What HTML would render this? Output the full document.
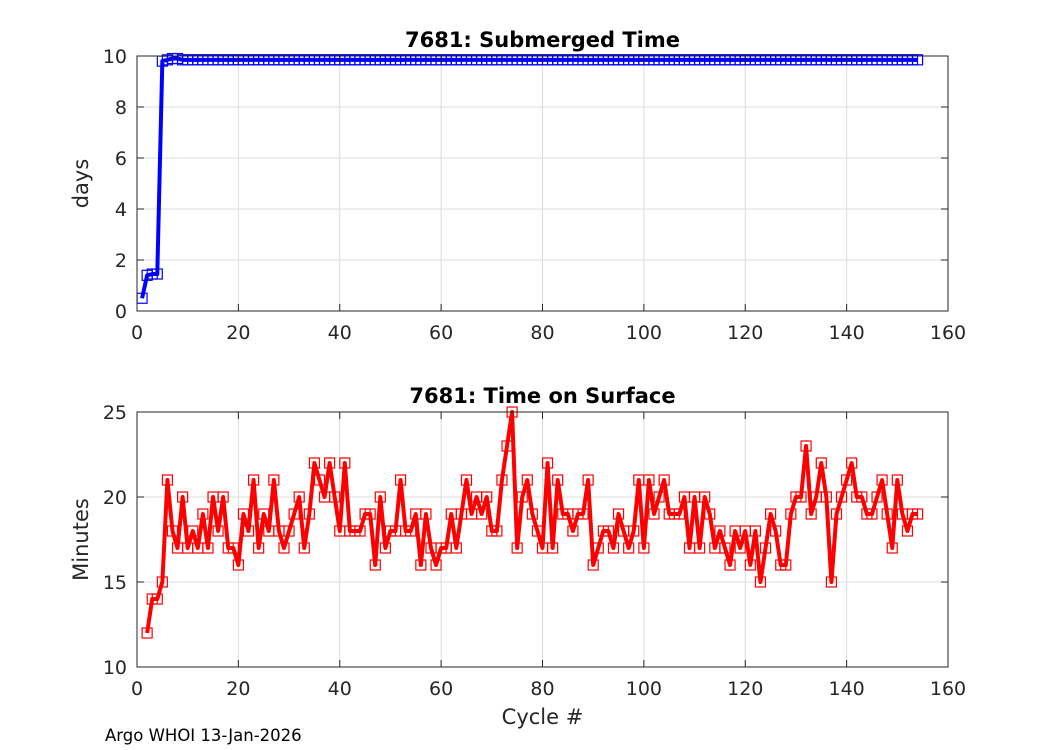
<!DOCTYPE html>
<html><head><meta charset="utf-8"><style>
body{margin:0;background:#fff;}
svg{display:block;font-family:"DejaVu Sans","Liberation Sans",sans-serif;}
</style></head><body>
<svg id="c" width="1050" height="750"></svg>
<script>
const cyclesTop=[];for(let i=1;i<=154;i++)cyclesTop.push(i);
const daysVals=[0.5,1.4,1.45,1.45,9.8,9.85,9.9,9.9].concat(Array(146).fill(9.85));
const cyclesBot=[];for(let i=2;i<=154;i++)cyclesBot.push(i);
const minutesVals=[12,14,14,15,21,18,17,20,17,18,17,19,17,20,18,20,17,17,16,19,18,21,17,19,18,21,18,17,18,19,20,17,19,22,21,20,22,20,18,22,18,18,18,19,19,16,20,17,18,18,21,18,18,19,16,19,17,16,17,17,19,17,19,21,19,20,19,20,18,18,21,23,25,17,20,21,19,18,17,22,17,21,19,19,18,19,19,21,16,17,18,18,17,19,18,17,18,21,17,21,19,20,21,19,19,19,20,17,20,17,20,19,17,18,17,16,18,17,18,16,18,15,17,19,18,16,16,19,20,20,23,19,20,22,20,15,19,20,21,22,20,20,19,19,20,21,19,17,21,19,18,19,19];
const xTicks=[0,20,40,60,80,100,120,140,160];
const yTicksTop=[0,2,4,6,8,10];
const yTicksBot=[10,15,20,25];
const NS="http://www.w3.org/2000/svg";
const svg=document.getElementById('c');
function mk(t,a,p){const e=document.createElementNS(NS,t);for(const k in a)e.setAttribute(k,a[k]);(p||svg).appendChild(e);return e;}
const X0=137,X1=948;
function xs(v){return X0+(v-0)/160*(X1-X0);}
function panel(name,top,bot,ymin,ymax,yt,xv,yv,col,title,ylab,xlab){
  const ys=v=>bot-(v-ymin)/(ymax-ymin)*(bot-top);
  const g=mk('g',{});
  
  
  xTicks.forEach(t=>{const l=mk('line',{x1:xs(t),x2:xs(t),y1:top,y2:bot,stroke:'#dcdcdc','stroke-width':1},g);});
  yt.forEach(t=>{const l=mk('line',{x1:X0,x2:X1,y1:ys(t),y2:ys(t),stroke:'#dcdcdc','stroke-width':1},g);});
  const pts=xv.map((x,i)=>xs(x)+','+ys(yv[i])).join(' ');
  const pl=mk('polyline',{points:pts,fill:'none',stroke:col,'stroke-width':4,'stroke-linejoin':'round'},g);
  
  xv.forEach((x,i)=>{const r=mk('rect',{x:xs(x)-5,y:ys(yv[i])-5,width:10,height:10,fill:'none',stroke:col,'stroke-width':1.2},g);});
  const fr=mk('rect',{x:X0,y:top,width:X1-X0,height:bot-top,fill:'none',stroke:'#262626','stroke-width':1},g);
  
  xTicks.forEach(t=>{mk('line',{x1:xs(t),x2:xs(t),y1:bot,y2:bot-7,stroke:'#262626'},g);mk('line',{x1:xs(t),x2:xs(t),y1:top,y2:top+7,stroke:'#262626'},g);
    const tx=mk('text',{x:xs(t),y:bot+28,'text-anchor':'middle','font-size':19,fill:'#262626'},g);tx.textContent=t;});
  yt.forEach(t=>{mk('line',{x1:X0,x2:X0+7,y1:ys(t),y2:ys(t),stroke:'#262626'},g);mk('line',{x1:X1,x2:X1-7,y1:ys(t),y2:ys(t),stroke:'#262626'},g);
    const tx=mk('text',{x:X0-10,y:ys(t)+7,'text-anchor':'end','font-size':19,fill:'#262626'},g);tx.textContent=t;});
  const ti=mk('text',{x:(X0+X1)/2,y:top-9,'text-anchor':'middle','font-size':21,'font-weight':'bold',fill:'#000'},g);ti.textContent=title;
  const cy=(top+bot)/2;
  const yl=mk('text',{x:88,y:cy,'text-anchor':'middle','font-size':21,fill:'#262626',transform:`rotate(-90 88 ${cy})`},g);yl.textContent=ylab;
  if(xlab){const xl=mk('text',{x:(X0+X1)/2,y:bot+57,'text-anchor':'middle','font-size':21,fill:'#262626'},g);xl.textContent=xlab;}
}
panel('submerged-time-panel',56,311,0,10,yTicksTop,cyclesTop,daysVals,'#0000ff','7681: Submerged Time','days',null);
panel('surface-time-panel',412,667,10,25,yTicksBot,cyclesBot,minutesVals,'#ff0000','7681: Time on Surface','Minutes','Cycle #');
const ft=mk('text',{x:105,y:741,'font-size':16.5,fill:'#000'});ft.textContent='Argo WHOI 13-Jan-2026';


</script>
</body></html>
